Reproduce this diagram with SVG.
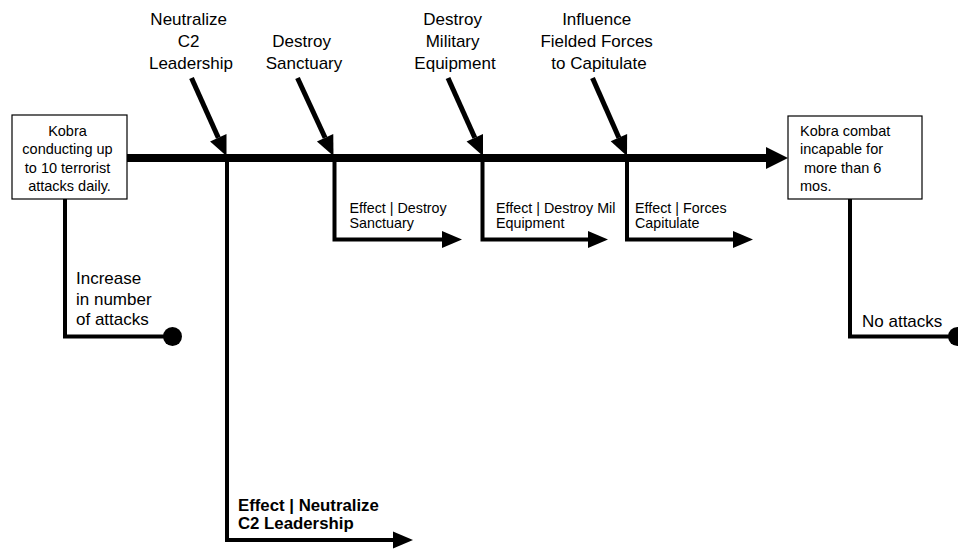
<svg xmlns="http://www.w3.org/2000/svg" width="958" height="550" viewBox="0 0 958 550">
<style>
  text { font-family: "Liberation Sans", Arial, sans-serif; fill: #000; }
  .box { fill: #fff; stroke: #000; stroke-width: 1.2; }
  .boxtxt { font-size: 14.5px; }
  .cause { font-size: 17px; text-anchor: middle; }
  .eff { font-size: 14.3px; }
  .big { font-size: 17px; }
  .bold { font-size: 16.8px; font-weight: bold; }
  .spine { stroke: #000; stroke-width: 8; fill: none; }
  .diag { stroke: #000; stroke-width: 5; fill: none; }
  .branch { stroke: #000; stroke-width: 4; fill: none; stroke-linejoin: miter; }
</style>
<defs>
  <marker id="headSpine" markerUnits="userSpaceOnUse" markerWidth="24" markerHeight="24" refX="0" refY="12" orient="auto" overflow="visible">
    <path d="M0,1 L22,12 L0,23 Z" fill="#000"/>
  </marker>
  <marker id="headDiag" markerUnits="userSpaceOnUse" markerWidth="22" markerHeight="22" refX="0" refY="11" orient="auto" overflow="visible">
    <path d="M0,2 L20,11 L0,20 Z" fill="#000"/>
  </marker>
  <marker id="headBranch" markerUnits="userSpaceOnUse" markerWidth="22" markerHeight="22" refX="0" refY="11" orient="auto" overflow="visible">
    <path d="M0,2.5 L20,11 L0,19.5 Z" fill="#000"/>
  </marker>
</defs>

<g id="connectors">
  <!-- main spine -->
  <path class="spine" d="M127,158 L766,158" marker-end="url(#headSpine)"/>
  <!-- cause arrows -->
  <path class="diag" d="M191.5,78 L218.3,137.8" marker-end="url(#headDiag)"/>
  <path class="diag" d="M297.5,78 L325.1,137.8" marker-end="url(#headDiag)"/>
  <path class="diag" d="M448,78 L474.8,137.8" marker-end="url(#headDiag)"/>
  <path class="diag" d="M592.5,78 L618.9,137.7" marker-end="url(#headDiag)"/>
  <!-- effect branches -->
  <path class="branch" d="M227,158 L227,540 L393,540" marker-end="url(#headBranch)"/>
  <path class="branch" d="M334.5,158 L334.5,239.5 L442,239.5" marker-end="url(#headBranch)"/>
  <path class="branch" d="M482.5,158 L482.5,239.5 L588,239.5" marker-end="url(#headBranch)"/>
  <path class="branch" d="M627,158 L627,239.5 L733,239.5" marker-end="url(#headBranch)"/>
  <!-- outcome branches -->
  <path class="branch" d="M65,199 L65,336.5 L172,336.5"/>
  <circle cx="172.5" cy="336.5" r="9.5" fill="#000"/>
  <path class="branch" d="M850,199 L850,336.5 L957,336.5"/>
  <circle cx="957.5" cy="336.5" r="9.5" fill="#000"/>
</g>

<g id="start-state">
  <rect class="box" x="12" y="115" width="115" height="84"/>
  <text class="boxtxt" text-anchor="middle">
    <tspan x="69.5" y="136">Kobra</tspan>
    <tspan x="69.5" y="154.3">conducting up</tspan>
    <tspan x="69.5" y="172.6">to 10 terrorist</tspan>
    <tspan x="69.5" y="190.9">attacks daily.</tspan>
  </text>
</g>

<g id="end-state">
  <rect class="box" x="788" y="116" width="134" height="83"/>
  <text class="boxtxt">
    <tspan x="800" y="136">Kobra combat</tspan>
    <tspan x="800" y="154.3">incapable for</tspan>
    <tspan x="804" y="172.6">more than 6</tspan>
    <tspan x="800" y="190.9">mos.</tspan>
  </text>
</g>

<g id="cause-neutralize">
  <text class="cause">
    <tspan x="191" y="25">Neutralize</tspan>
    <tspan x="191" y="47">C2</tspan>
    <tspan x="191" y="69">Leadership</tspan>
  </text>
</g>
<g id="cause-sanctuary">
  <text class="cause">
    <tspan x="304" y="47">Destroy</tspan>
    <tspan x="304" y="69">Sanctuary</tspan>
  </text>
</g>
<g id="cause-military">
  <text class="cause">
    <tspan x="455" y="25">Destroy</tspan>
    <tspan x="455" y="47">Military</tspan>
    <tspan x="455" y="69">Equipment</tspan>
  </text>
</g>
<g id="cause-influence">
  <text class="cause">
    <tspan x="599" y="25">Influence</tspan>
    <tspan x="599" y="47">Fielded Forces</tspan>
    <tspan x="599" y="69">to Capitulate</tspan>
  </text>
</g>

<g id="effect-neutralize">
  <text class="bold">
    <tspan x="238" y="511">Effect | Neutralize</tspan>
    <tspan x="238" y="528.5">C2 Leadership</tspan>
  </text>
</g>
<g id="effect-sanctuary">
  <text class="eff">
    <tspan x="349.5" y="212.5">Effect | Destroy</tspan>
    <tspan x="349.5" y="227.5">Sanctuary</tspan>
  </text>
</g>
<g id="effect-military">
  <text class="eff">
    <tspan x="496" y="212.5">Effect | Destroy Mil</tspan>
    <tspan x="496" y="227.5">Equipment</tspan>
  </text>
</g>
<g id="effect-forces">
  <text class="eff">
    <tspan x="635" y="212.5">Effect | Forces</tspan>
    <tspan x="635" y="227.5">Capitulate</tspan>
  </text>
</g>

<g id="outcome-worse">
  <text class="big">
    <tspan x="76" y="284">Increase</tspan>
    <tspan x="76" y="304.5">in number</tspan>
    <tspan x="76" y="325">of attacks</tspan>
  </text>
</g>
<g id="outcome-better">
  <text class="big">
    <tspan x="862" y="326.5">No attacks</tspan>
  </text>
</g>
</svg>
